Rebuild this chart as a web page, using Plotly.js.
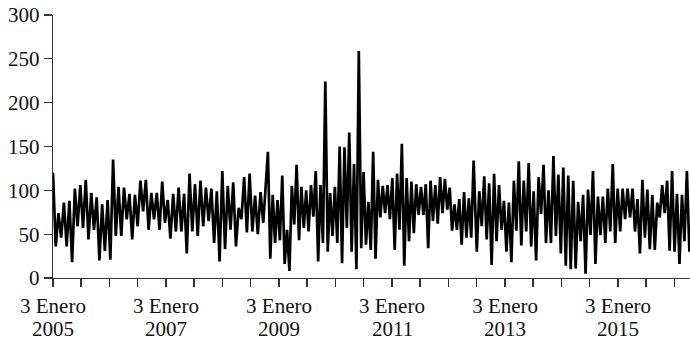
<!DOCTYPE html>
<html><head><meta charset="utf-8">
<script src="https://cdn.plot.ly/plotly-3.0.1.min.js"></script>
<style>html,body{margin:0;padding:0;background:#fff;}#chart{width:690px;height:340px;}</style>
</head><body><div id="chart"></div>
<script>
// Values, three consecutive periods
const seriesA = [120,36,74,46,86,36,88,18,102,59,106,57,112,44,97,55,92,20,84,31,89,21,135,48,104,48,103,67,96,44,95,59,111,76,112,55,97,67,97,55,110,63,89,45,96,53,103,53,96,28,119,53,107,48,111,59,103,65,102,40,99,19,122,33,105,55,109,36,80,67,115,52,119,53,94,50,98,63];
const seriesB = [144,22,95,40,89,43,117,16,55,8,105,61,129,43,104,57,100,53,106,70,122,19,106,40,224,30,97,48,104,40,150,17,149,57,166,30,130,10,259,34,121,38,87,32,144,22,112,69,105,74,106,67,114,32,119,55,153,14,114,42,110,51,107,72,104,72,107,34,111,65,106,62,115,74,113,78,103,54,84,55,90,38,98,46,91,46,134,40];
const seriesC = [30,99,59,116,44,108,15,119,42,106,55,88,30,86,18,111,54,133,37,111,53,131,36,99,20,115,73,129,40,100,40,139,48,118,28,126,14,117,10,111,11,87,42,95,5,101,49,122,16,93,49,93,40,102,53,130,40,102,53,102,67,102,69,102,53,90,28,112,46,101,33,95,32,86,69,106,74,111,31,122,30,96,16,95,42,122,30];
const periodStarts = ['2005-01-03','2008-10-23','2012-07-04'];
const periodEnds   = ['2008-09-23','2012-06-29','2016-04-08'];

const labelDates = ['2005-01-03','2007-01-03','2009-01-03','2011-01-03','2013-01-03','2015-01-03'];
const labelDay = '3 Enero';
const labelYears = ['2005','2007','2009','2011','2013','2015'];
const yTicks = [0,50,100,150,200,250,300];

function spread(vals, s, e){
  const t0 = Date.parse(s+'T00:00:00Z'), t1 = Date.parse(e+'T00:00:00Z');
  return vals.map((v,i)=> new Date(t0 + (t1-t0)*i/(vals.length-1)).toISOString().slice(0,19).replace('T',' '));
}
const allSeries = [seriesA, seriesB, seriesC];
let xs = [], ys = [];
allSeries.forEach((s,k)=>{ xs = xs.concat(spread(s, periodStarts[k], periodEnds[k])); ys = ys.concat(s); });

const FONT = 'Liberation Serif, "DejaVu Serif", serif';
const AX = '#333';
const FS = 21;
const trace = {x: xs, y: ys, type:'scatter', mode:'lines', line:{color:'#000', width:2.7}, hoverinfo:'skip'};

const layout = {
  width:690, height:340,
  margin:{l:53, r:0, t:15, b:62, pad:0},
  paper_bgcolor:'#fff', plot_bgcolor:'#fff', showlegend:false,
  font:{family:FONT, size:FS, color:'#111'},
  xaxis:{type:'date', range:['2005-01-03','2016-04-12'], showgrid:false, zeroline:false,
    showline:true, linecolor:AX, linewidth:1.3, ticks:'outside', ticklen:8, tickwidth:1.3, tickcolor:AX,
    tickmode:'array', tickvals:labelDates, ticktext:labelDates.map(()=>labelDay),
    tickfont:{family:FONT, size:FS, color:'#111'},
    minor:{tickmode:'linear', tick0:'2005-01-03', dtick:'M6', ticks:'outside', ticklen:8, tickwidth:1.3, tickcolor:AX, showgrid:false}},
  yaxis:{range:[0,300], showgrid:false, zeroline:false, showline:true, linecolor:AX, linewidth:1.3,
    ticks:'outside', ticklen:8, tickwidth:1.3, tickcolor:AX, tickmode:'array', tickvals:yTicks,
    tickfont:{family:FONT, size:FS, color:'#111'}},
  annotations: labelYears.map((t,i)=>({x:labelDates[i], xref:'x', y:0, yref:'paper', yanchor:'top', yshift:-37,
    text:t, showarrow:false, font:{family:FONT, size:FS, color:'#111'}}))
};
Plotly.newPlot('chart', [trace], layout, {displayModeBar:false, staticPlot:true});
</script></body></html>
